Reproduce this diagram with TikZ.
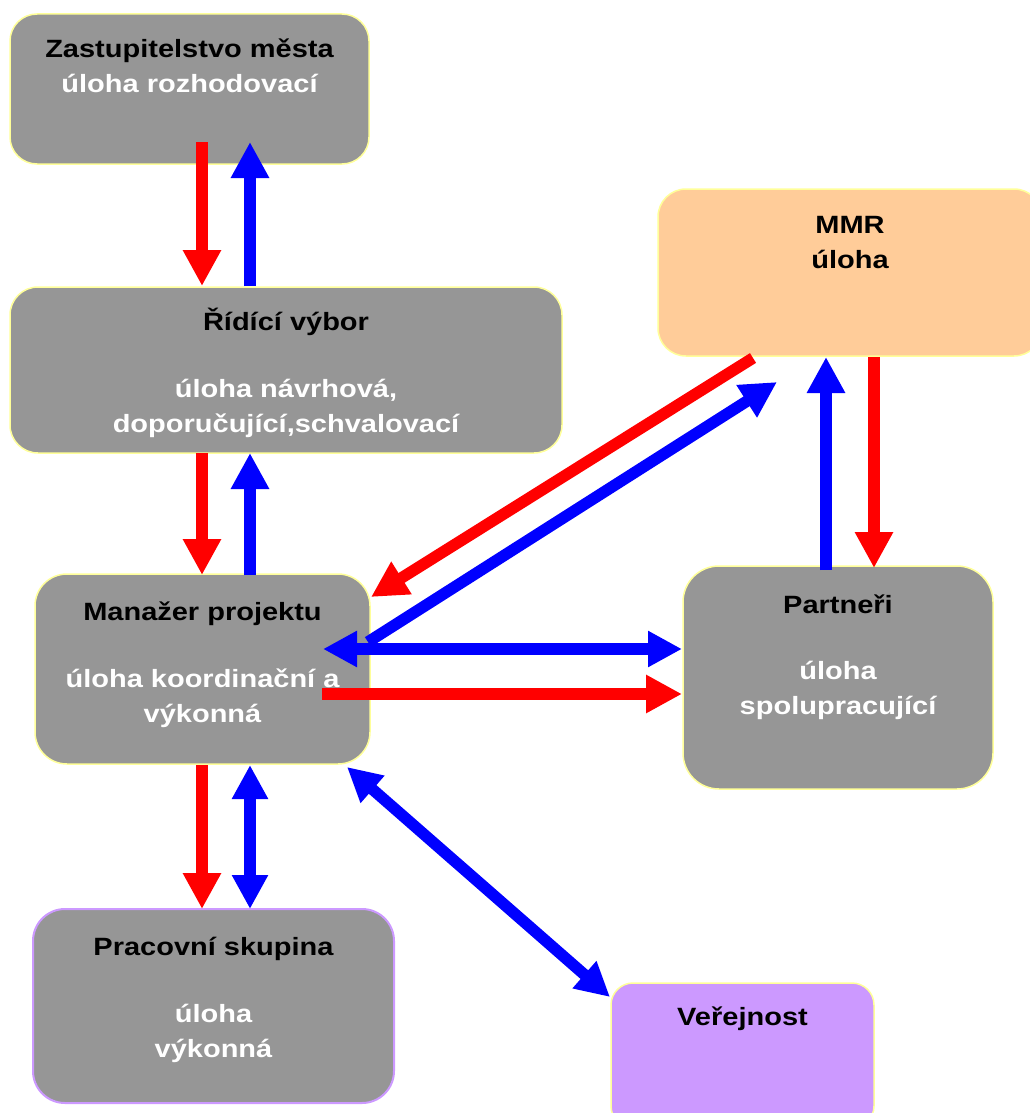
\documentclass[tikz,border=0pt]{standalone}
\usepackage{fontspec}
\setmainfont{Liberation Sans}[FakeStretch=1.16]
\usetikzlibrary{arrows.meta,calc}
\definecolor{boxgray}{RGB}{150,150,150}
\definecolor{paleyel}{RGB}{255,255,153}
\definecolor{peach}{RGB}{255,204,153}
\definecolor{lilac}{RGB}{204,153,255}
\newcommand\mystrut{\rule{0pt}{25pt}}
\begin{document}
\begin{tikzpicture}[x=1pt,y=-1pt,
  box/.style={draw=paleyel, line width=1.5pt, fill=boxgray, anchor=north west,
    inner sep=0pt, outer sep=0pt},
  lbl/.style={anchor=north, inner sep=0pt, align=center,
    font=\fontsize{25}{35}\selectfont\bfseries},
  rarr/.style={draw=red, line width=11.5pt, -{Triangle[length=36pt,width=36pt]}},
  barr/.style={draw=blue, line width=11.5pt, -{Triangle[length=36pt,width=36pt]}},
  bdbl/.style={draw=blue, line width=11.5pt,
    {Triangle[length=34pt,width=34pt]}-{Triangle[length=34pt,width=34pt]}}
]
\useasboundingbox (0,0) rectangle (1030,1113);
\clip (0,0) rectangle (1030,1113);

% boxes
\node[box, rounded corners=27pt, minimum width=359pt, minimum height=150pt] (zast) at (10,14) {};
\node[box, rounded corners=28pt, minimum width=552pt, minimum height=166pt] (rid) at (10,287) {};
\node[box, fill=peach, rounded corners=28pt, minimum width=384pt, minimum height=167pt] (mmr) at (658,189) {};
\node[box, rounded corners=32pt, minimum width=335pt, minimum height=190pt] (man) at (35,574) {};
\node[box, rounded corners=36pt, minimum width=310pt, minimum height=223pt] (par) at (683,566) {};
\node[box, draw=lilac, line width=2pt, rounded corners=32pt, minimum width=361pt, minimum height=194pt] (prac) at (33,909) {};
\node[box, fill=lilac, rounded corners=22pt, minimum width=263pt, minimum height=145pt] (ver) at (611,983) {};

% texts
\node[lbl] (zastT) at ($(zast.north)+(0,18)$) {\mystrut Zastupitelstvo města\\\textcolor{white}{úloha rozhodovací}};
\node[lbl] (ridT) at ($(rid.north)+(0,18)$) {\mystrut Řídící výbor\\[32pt]\textcolor{white}{úloha návrhová,}\\\textcolor{white}{doporučující,schvalovací}};
\node[lbl] (mmrT) at ($(mmr.north)+(0,19)$) {\mystrut MMR\\úloha};
\node[lbl] (manT) at ($(man.north)+(0,21)$) {\mystrut Manažer projektu\\[32pt]\textcolor{white}{úloha koordinační a}\\\textcolor{white}{výkonná}};
\node[lbl] (parT) at ($(par.north)+(0,22)$) {\mystrut Partneři\\[31pt]\textcolor{white}{úloha}\\\textcolor{white}{spolupracující}};
\node[lbl] (pracT) at ($(prac.north)+(0,21)$) {\mystrut Pracovní skupina\\[32pt]\textcolor{white}{úloha}\\\textcolor{white}{výkonná}};
\node[lbl] (verT) at ($(ver.north)+(0,17)$) {\mystrut Veřejnost};

% vertical connectors, left column
\draw[rarr] ($(zast.south west)+(192,-22)$) -- ($(rid.north west)+(192,-1)$);
\draw[barr] ($(rid.north west)+(240,-1)$) -- ($(zast.south west)+(240,-22)$);
\draw[rarr] ($(rid.south west)+(192,0)$) -- ($(man.north west)+(167,1)$);
\draw[barr] ($(man.north west)+(215,1)$) -- ($(rid.south west)+(240,0)$);
\draw[rarr] ($(man.south west)+(167,1)$) -- ($(prac.north west)+(169,0)$);
\draw[bdbl] ($(man.south west)+(215,1)$) -- ($(prac.north west)+(217,0)$);

% diagonal to Verejnost
\draw[bdbl] ($(man.south east)+(-23,3)$) -- ($(ver.north west)+(-1,14)$);

% MMR <-> Manazer
\draw[rarr] ($(mmr.south west)+(95,2)$) -- ($(man.north east)+(1,23)$);
\draw[barr] ($(man.north east)+(-2,68)$) -- ($(mmr.south west)+(119,26)$);

% Manazer <-> Partneri
\draw[bdbl] ($(man.east)+(-47,-20)$) -- ($(par.west)+(-1,-28.5)$);
\draw[rarr] ($(man.east)+(-48,25)$) -- ($(par.west)+(-1,16.5)$);

% MMR <-> Partneri
\draw[barr] ($(par.north)+(-12,4)$) -- ($(mmr.south)+(-24,1)$);
\draw[rarr] ($(mmr.south)+(24,1)$) -- ($(par.north)+(36,2)$);
\end{tikzpicture}
\end{document}
